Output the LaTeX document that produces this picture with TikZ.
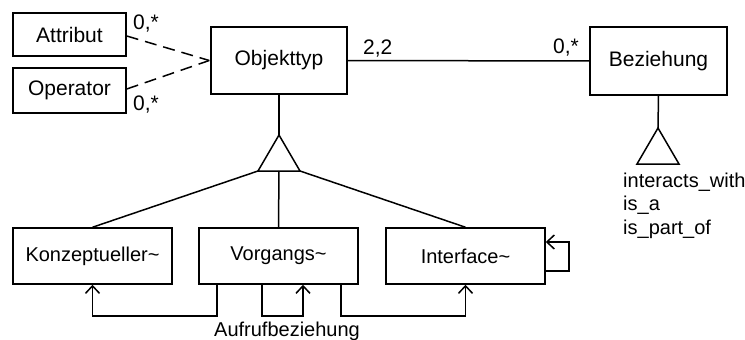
\documentclass[tikz,border=0pt]{standalone}
\usepackage{fontspec}
\setmainfont{Liberation Sans}
\usetikzlibrary{arrows.meta}
\begin{document}
\begin{tikzpicture}[x=1pt,y=-1pt,
  ln/.style={line width=1.5pt},
  box/.style={draw,line width=1.5pt,inner sep=0pt,font=\fontsize{21}{24}\selectfont},
  sbox/.style={draw,line width=1.5pt,inner sep=0pt,minimum width=159pt,minimum height=56pt,font=\fontsize{20}{24}\selectfont},
  lab/.style={inner sep=0pt,anchor=base west,font=\fontsize{21}{24}\selectfont},
  slab/.style={inner sep=0pt,anchor=base west,font=\fontsize{20}{24}\selectfont},
  dsh/.style={line width=1.5pt,dash pattern=on 12pt off 7pt},
  arr/.style={line width=1.5pt,-{Straight Barb[length=7.5pt,width=14pt,line width=1.5pt]}}
]
\useasboundingbox (0,0) rectangle (745,340);
% boxes
\node[box,minimum width=113pt,minimum height=43pt] (attr) at (69.5,34.5) {Attribut};
\node[box,minimum width=113pt,minimum height=45pt] (oper) at (69.5,90.5) {Operator};
\node[box,minimum width=136pt,minimum height=67pt] (obj) at (279,60.5) {Objekttyp};
\node[box,minimum width=137pt,minimum height=68pt] (bez) at (658.5,61) {Beziehung};
\node[sbox] (konz) at (92.5,256) {Konzeptueller\~{}};
\node[sbox] (vorg) at (278.5,256) {Vorgangs\~{}};
\node[sbox] (intf) at (465.5,256) {Interface\~{}};
% dashed associations
\draw[dsh] ([yshift=-1.5pt]attr.east) -- ([xshift=-1pt]obj.west);
\draw[dsh] ([yshift=1.5pt]oper.east) -- ([xshift=-1pt]obj.west);
\node[lab] (l1) at (133,30) {0,*};
\node[lab] (l2) at (133,110) {0,*};
% association obj - bez
\draw[ln] (obj.east) -- (bez.west);
\node[lab] (l3) at (363,54) {2,2};
\node[lab] (l4) at (553,53) {0,*};
% generalization triangle Objekttyp
\coordinate (ta) at (279,135);
\coordinate (tl) at (258,171);
\coordinate (tr) at (300,171);
\coordinate (tm) at (279,171);
\draw[ln,line join=miter] (ta) -- (tl) -- (tr) -- cycle;
\draw[ln] (obj.south) -- (ta);
\draw[ln] (tl) -- (konz.north);
\draw[ln] (tm) -- (vorg.north);
\draw[ln] (tr) -- (intf.north);
% generalization triangle Beziehung
\coordinate (ba) at (658,128);
\coordinate (bl) at (637,164);
\coordinate (br) at (679,164);
\draw[ln,line join=miter] (ba) -- (bl) -- (br) -- cycle;
\draw[ln] (bez.south) -- (ba);
\node[slab] (r1) at (623,187) {interacts\_with};
\node[slab] (r2) at (623,210.5) {is\_a};
\node[slab] (r3) at (623,234) {is\_part\_of};
% call relations
\draw[arr] ([xshift=-61.5pt]vorg.south) -- ++(0,31) -| (konz.south);
\draw[arr] ([xshift=-16.5pt]vorg.south) -- ++(0,31) -| ([xshift=24.5pt]vorg.south);
\draw[arr] ([xshift=62.5pt]vorg.south) -- ++(0,31) -| (intf.south);
\draw[arr] ([yshift=-15pt]intf.east) -- ++(23,0) |- ([yshift=14pt]intf.east);
\node[inner sep=0pt,anchor=base,font=\fontsize{20}{24}\selectfont] (auf) at (287,336) {Aufrufbeziehung};
\end{tikzpicture}
\end{document}
